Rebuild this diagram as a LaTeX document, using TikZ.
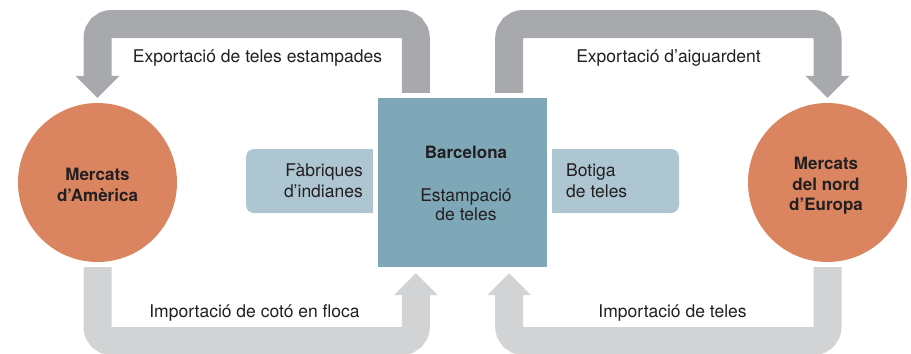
\documentclass[tikz,border=0pt]{standalone}
\usepackage{fontspec}
\setmainfont{TeX Gyre Heros}
\usetikzlibrary{calc}
\definecolor{gdark}{HTML}{A7A9AC}
\definecolor{glight}{HTML}{D1D3D4}
\definecolor{orng}{HTML}{DB8560}
\definecolor{bcnblue}{HTML}{7EA8B8}
\definecolor{lblue}{HTML}{ADC6D2}
\definecolor{txt}{HTML}{231F20}
\begin{document}
\begin{tikzpicture}[x=1bp,y=-1bp,
  lbl/.style={font=\fontsize{17.5bp}{21bp}\selectfont, text=txt, inner sep=0pt, anchor=base},
  bld/.style={font=\fontsize{17bp}{21bp}\selectfont\bfseries, text=txt, inner sep=0pt, anchor=base},
  circ/.style={circle, fill=orng, minimum size=159bp, inner sep=0pt},
  bcnbox/.style={rectangle, fill=bcnblue, minimum width=169bp, minimum height=169bp, inner sep=0pt},
  side/.style={rectangle, fill=lblue, minimum width=127bp, minimum height=64bp, inner sep=0pt, rounded corners=8bp},
  darkband/.style={draw=gdark, line width=28bp, rounded corners=14bp},
  lightband/.style={draw=glight, line width=28bp, rounded corners=14bp}]
\useasboundingbox (0,0) rectangle (911,353);

% main nodes
\node[circ] (amer) at (97.5,182.5) {};
\node[circ] (euro) at (827.5,182.5) {};
\node[bcnbox] (bcn) at (462.5,182.5) {};
\node[side] (fab) at (309.5,181) {};
\node[side] (bot) at (615.5,181) {};
\fill[lblue] (fab.north) rectangle (fab.south east);
\fill[lblue] (bot.north west) rectangle (bot.south);

% arrow coordinates
\coordinate (top) at (0,24);
\coordinate (base) at (0,341);
\coordinate (a1s) at ($(bcn.north west)+(38,-5)$);
\coordinate (a1e) at ($(amer.north)+(0,-5)$);
\coordinate (a2s) at ($(bcn.north east)+(-38,-5)$);
\coordinate (a2e) at ($(euro.north)+(0,-5)$);
\coordinate (a3s) at ($(amer.south)+(0,5)$);
\coordinate (a3e) at ($(bcn.south west)+(38,6)$);
\coordinate (a4s) at ($(euro.south)+(0,5)$);
\coordinate (a4e) at ($(bcn.south east)+(-38,6)$);

% top arrows
\draw[darkband] (a1s) -- (a1s |- top) -- (a1e |- top) -- ($(a1e)+(0,-21.5)$);
\fill[gdark] ($(a1e)+(-22,-22)$) -- ($(a1e)+(22,-22)$) -- (a1e) -- cycle;
\draw[darkband] (a2s) -- (a2s |- top) -- (a2e |- top) -- ($(a2e)+(0,-21.5)$);
\fill[gdark] ($(a2e)+(-22,-22)$) -- ($(a2e)+(22,-22)$) -- (a2e) -- cycle;

% bottom arrows
\draw[lightband] (a3s) -- (a3s |- base) -- (a3e |- base) -- ($(a3e)+(0,21.5)$);
\fill[glight] ($(a3e)+(-22,22)$) -- ($(a3e)+(22,22)$) -- (a3e) -- cycle;
\draw[lightband] (a4s) -- (a4s |- base) -- (a4e |- base) -- ($(a4e)+(0,21.5)$);
\fill[glight] ($(a4e)+(-22,22)$) -- ($(a4e)+(22,22)$) -- (a4e) -- cycle;

% texts
\node[bld] (am1) at (97.5,180) {Mercats};
\node[bld] (am2) at (97.5,201) {d’Amèrica};
\node[bld] (eu1) at (826,169) {Mercats};
\node[bld] (eu2) at (826,190) {del nord};
\node[bld] (eu3) at (826,210) {d’Europa};
\node[bld] (bc1) at (466,158) {Barcelona};
\node[lbl] (bc2) at (466,201) {Estampació};
\node[lbl] (bc3) at (466,220) {de teles};
\node[lbl, anchor=base east] (fa1) at (363,176) {Fàbriques};
\node[lbl, anchor=base east] (fa2) at (363,197) {d’indianes};
\node[lbl, anchor=base west] (bo1) at (566,176) {Botiga};
\node[lbl, anchor=base west] (bo2) at (566,197) {de teles};

\node[lbl] (l1) at (257.5,62) {Exportació de teles estampades};
\node[lbl] (l2) at (668.5,62) {Exportació d’aiguardent};
\node[lbl] (l3) at (254.5,317) {Importació de cotó en floca};
\node[lbl] (l4) at (672.5,317) {Importació de teles};
\end{tikzpicture}
\end{document}
